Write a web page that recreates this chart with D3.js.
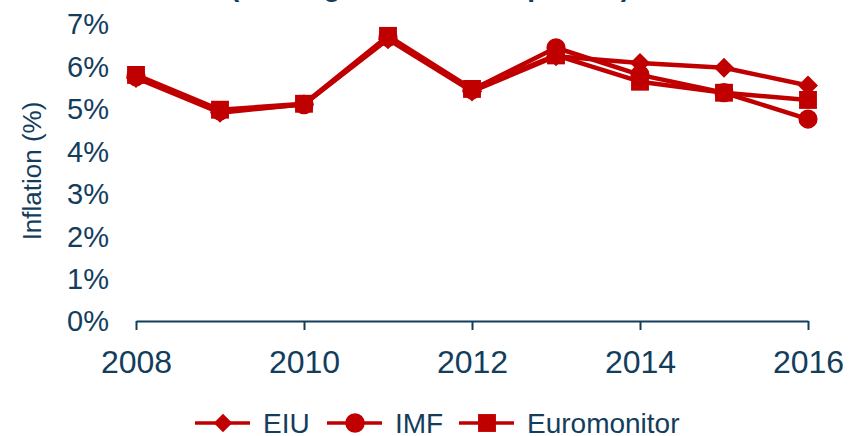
<!DOCTYPE html>
<html>
<head>
<meta charset="utf-8">
<script src="https://cdn.jsdelivr.net/npm/d3@7"></script>
<style>
  html, body { margin: 0; padding: 0; background: #fff; }
  #chart { width: 864px; height: 436px; }
  text { font-family: "Liberation Sans", Arial, sans-serif; fill: #133d5c; }
</style>
</head>
<body>
<div id="chart"></div>
<script>
const years = [2008, 2009, 2010, 2011, 2012, 2013, 2014, 2015, 2016];
const eiu = [5.73, 4.91, 5.11, 6.64, 5.41, 6.24, 6.08, 5.97, 5.55];
const imf = [5.76, 4.95, 5.10, 6.68, 5.45, 6.44, 5.80, 5.38, 4.76];
const euromonitor = [5.80, 4.98, 5.12, 6.72, 5.47, 6.26, 5.64, 5.38, 5.21];
const seriesNames = ["EIU", "IMF", "Euromonitor"];
const seriesShapes = ["diamond", "circle", "square"];
const yTicks = [0, 1, 2, 3, 4, 5, 6, 7];
const xTicks = [2008, 2010, 2012, 2014, 2016];
const title = "(average consumer prices)";

const red = "#c00000";
const ink = "#133d5c";

const svg = d3.select("#chart").append("svg")
  .attr("width", 864).attr("height", 436);

// title sits mostly above the visible area, only descenders show
svg.append("text")
  .attr("x", 230).attr("y", -4)
  .attr("font-size", 28).attr("font-weight", 700)
  .attr("textLength", 400)
  .text(title);

const x = d3.scaleLinear().domain([2008, 2016]).range([136, 808]);
const y = d3.scaleLinear().domain([0, 7]).range([321, 24]);

// y labels
svg.selectAll(".ylab").data(yTicks).enter().append("text")
  .attr("class", "ylab")
  .attr("x", 109).attr("y", d => y(d))
  .attr("dy", "0.36em")
  .attr("text-anchor", "end")
  .attr("font-size", 29)
  .text(d => d + "%");

svg.append("text")
  .attr("transform", "translate(41,171) rotate(-90)")
  .attr("text-anchor", "middle")
  .attr("font-size", 26)
  .text("Inflation (%)");

// x axis
const xAxis = svg.append("g")
  .attr("transform", `translate(0,${y(0)})`)
  .call(d3.axisBottom(x).tickValues(xTicks).tickSize(9).tickSizeOuter(0).tickFormat(d3.format("d")));
xAxis.select(".domain").attr("stroke", ink).attr("stroke-width", 2);
xAxis.selectAll(".tick line").attr("stroke", ink).attr("stroke-width", 2);
xAxis.selectAll(".tick text")
  .attr("fill", ink).attr("font-size", 32)
  .attr("font-family", "Liberation Sans, Arial, sans-serif")
  .attr("y", 29).attr("dy", "0.71em");

// diamond drawn as a square turned 45 degrees
const symbols = {
  diamond: d3.symbol().type(d3.symbolSquare).size(200),
  circle: d3.symbol().type(d3.symbolCircle).size(290),
  square: d3.symbol().type(d3.symbolSquare).size(320)
};
const rot = shape => shape === "diamond" ? " rotate(45)" : "";

const series = [eiu, imf, euromonitor];
const line = d3.line().x((d, i) => x(years[i])).y(d => y(d));

series.forEach((vals, s) => {
  const shape = seriesShapes[s];
  const g = svg.append("g");
  g.append("path")
    .datum(vals)
    .attr("fill", "none")
    .attr("stroke", red)
    .attr("stroke-width", 4.5)
    .attr("stroke-linejoin", "round")
    .attr("d", line);
  g.selectAll("path.mk").data(vals).enter().append("path")
    .attr("class", "mk")
    .attr("transform", (d, i) => `translate(${x(years[i])},${y(d)})${rot(shape)}`)
    .attr("fill", red)
    .attr("d", symbols[shape]);
});

// legend
const legendX = [195, 327, 459];
const legend = svg.append("g").attr("transform", "translate(0,423)");
seriesNames.forEach((name, i) => {
  const lx = legendX[i];
  const shape = seriesShapes[i];
  legend.append("line")
    .attr("x1", lx).attr("x2", lx + 55)
    .attr("stroke", red).attr("stroke-width", 3.5);
  legend.append("path")
    .attr("transform", `translate(${lx + 28},0)${rot(shape)}`)
    .attr("fill", red)
    .attr("d", d3.symbol().type(shape === "circle" ? d3.symbolCircle : d3.symbolSquare)
      .size(shape === "circle" ? 300 : (shape === "diamond" ? 170 : 320)));
  legend.append("text")
    .attr("x", lx + 68).attr("dy", "0.36em")
    .attr("font-size", 28)
    .text(name);
});
</script>
</body>
</html>
